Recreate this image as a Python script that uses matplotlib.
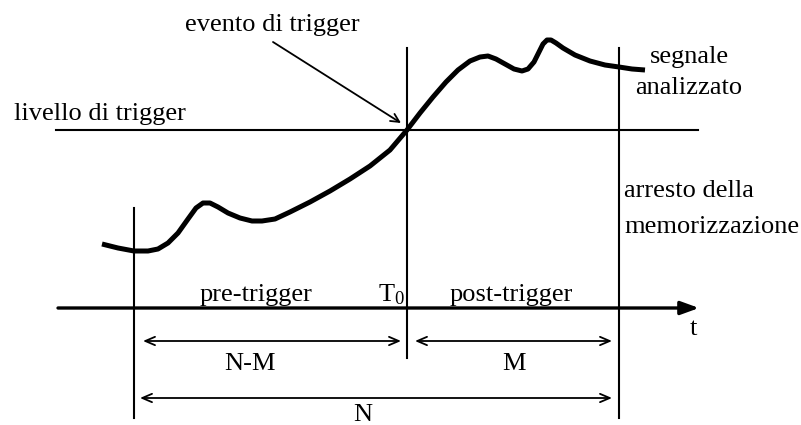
import matplotlib.pyplot as plt

plt.rcParams['mathtext.fontset'] = 'custom'
plt.rcParams['mathtext.rm'] = 'Liberation Serif'
plt.rcParams['mathtext.it'] = 'Liberation Serif:italic'

# pixel-space drawing of the trigger diagram (y grows downward)
W, H = 801, 425

# hand-drawn signal
sig_x = [102, 118, 134, 148, 158, 168, 178, 188, 196, 203, 210, 218, 228, 240, 252, 262,
         275, 290, 310, 330, 350, 370, 390, 407, 420, 433, 446, 458, 470, 480, 488,
         496, 505, 514, 522, 528, 534, 539, 543, 547, 551, 556, 563, 575, 590, 605, 619, 632, 645]
sig_y = [244, 248, 251, 251, 249, 243, 233, 219, 208, 203, 203, 207, 213, 218, 221, 221,
         219, 212, 202, 191, 179, 166, 150, 130, 113, 97, 82, 70, 61, 57, 56,
         59, 64, 69, 71, 69, 62, 52, 44, 40, 40, 43, 48, 55, 61, 65, 67, 69, 70]

x_start, x_t0, x_stop = 134, 407, 619
trigger_y, axis_y = 130, 308
labels_font = ['Liberation Serif', 'DejaVu Serif']

fig = plt.figure(figsize=(W / 100, H / 100), dpi=100)
ax = fig.add_axes([0, 0, 1, 1])
ax.set_xlim(0, W)
ax.set_ylim(H, 0)
ax.axis('off')

# trigger level and vertical markers
ax.plot([56, 698], [trigger_y, trigger_y], color='black', lw=1.5)
ax.plot([x_start, x_start], [208, 418], color='black', lw=1.5)
ax.plot([x_t0, x_t0], [48, 358], color='black', lw=1.5)
ax.plot([x_stop, x_stop], [48, 418], color='black', lw=1.5)

# time axis with filled arrow
ax.annotate('', xy=(699, axis_y), xytext=(58, axis_y),
            arrowprops=dict(arrowstyle='-|>,head_length=1.1,head_width=0.4',
                            color='black', lw=2.4, shrinkA=0, shrinkB=0))

# signal
ax.plot(sig_x, sig_y, color='black', lw=3.6, solid_capstyle='butt', solid_joinstyle='round')

# trigger event arrow
ax.annotate('', xy=(401, 123), xytext=(273, 42),
            arrowprops=dict(arrowstyle='->,head_length=0.6,head_width=0.3',
                            color='black', lw=1.3, shrinkA=0, shrinkB=0))

# span arrows
spans = [(143, 401, 341), (415, 612, 341), (140, 612, 398)]
for x0, x1, yy in spans:
    ax.annotate('', xy=(x1, yy), xytext=(x0, yy),
                arrowprops=dict(arrowstyle='<->,head_length=0.7,head_width=0.3',
                                color='black', lw=1.3, shrinkA=0, shrinkB=0))

fs = 19
txt = dict(family=labels_font, fontsize=fs, color='black', va='baseline')
ax.text(14, 120, 'livello di trigger', ha='left', **txt)
ax.text(185, 31, 'evento di trigger', ha='left', **txt)
ax.text(689, 63, 'segnale', ha='center', **txt)
ax.text(689, 94, 'analizzato', ha='center', **txt)
ax.text(624, 197, 'arresto della', ha='left', **txt)
ax.text(624, 233, 'memorizzazione', ha='left', **txt)
ax.text(200, 301, 'pre-trigger', ha='left', **txt)
ax.text(378, 301, r'$\mathrm{T}_\mathrm{0}$', ha='left', **txt)
ax.text(450, 301, 'post-trigger', ha='left', **txt)
ax.text(693, 335, 't', ha='center', **txt)
ax.text(250, 370, 'N-M', ha='center', **txt)
ax.text(514, 370, 'M', ha='center', **txt)
ax.text(363, 421, 'N', ha='center', **txt)

plt.savefig('out.png', dpi=100, facecolor='white')
